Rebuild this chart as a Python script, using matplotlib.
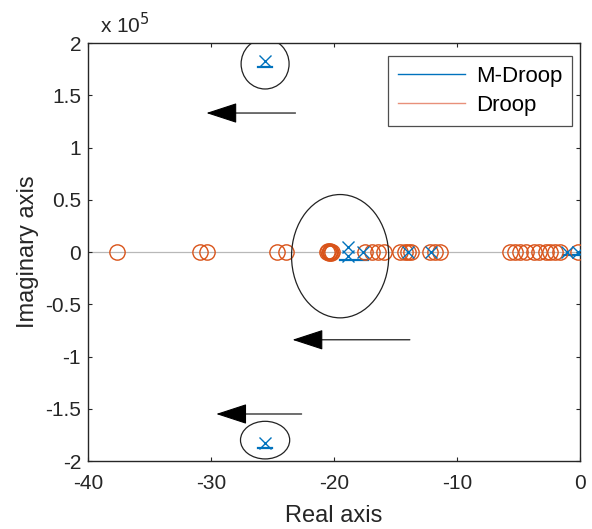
"""Root locus comparison: M-Droop vs Droop (pole map, MATLAB look)."""
import matplotlib
matplotlib.use("Agg")
import matplotlib.pyplot as plt
from matplotlib.patches import Ellipse
from matplotlib.ticker import FuncFormatter

plt.rcParams["font.family"] = ["Liberation Sans", "DejaVu Sans"]
plt.rcParams["axes.unicode_minus"] = False

# Droop poles (red circles), real parts, imag = 0 unless listed
droop_re = [-37.6, -30.9, -30.3, -24.6, -23.9,
            -20.6, -20.5, -20.4, -20.35, -20.3, -20.25, -20.2,
            -17.5, -16.9, -16.4, -15.9,
            -14.6, -14.2, -14.0, -13.7,
            -12.2, -11.8, -11.4,
            -5.7, -5.3, -4.9, -4.4,
            -3.7, -3.3, -2.8, -2.4, -2.0, -1.6, -0.15]
droop_im = [0, 0, 0, 0, 0,
            0, 1200, -1200, 0, 800, -800, 0,
            0, 0, 0, 0,
            0, 0, 0, 0,
            0, 0, 0,
            0, 0, 0, 0,
            0, 0, 0, 0, 0, 0, 0]

# M-Droop poles (blue crosses)
mdroop_re = [-25.6, -25.6, -18.9, -18.9, -17.6, -14.0, -12.1, -1.05, -0.15]
mdroop_im = [1.825e5, -1.83e5, 5000, -3500, 0, 0, 0, 0, 0]

# short M-Droop locus branches drawn under the crosses
mloc_top_re = [-26.2, -25.0]
mloc_top_im = [1.775e5, 1.775e5]
mloc_bot_re = [-26.2, -25.0]
mloc_bot_im = [-1.875e5, -1.875e5]
mloc_mid_re = [-19.5, -17.2]
mloc_mid_im = [-7500, -7500]
mloc_org_re = [-1.4, 0.0]
mloc_org_im = [-2500, -2500]

# annotations: ellipses (center re, center im, width, height)
ell_cx = [-25.6, -19.5, -25.6]
ell_cy = [1.80e5, -0.04e5, -1.80e5]
ell_w = [3.9, 7.9, 4.0]
ell_h = [0.48e5, 1.18e5, 0.36e5]

# arrows (start re, end re, im)
arr_x0 = [-22.9, -13.6, -22.4]
arr_x1 = [-30.6, -23.6, -29.8]
arr_y = [1.33e5, -0.84e5, -1.55e5]

xticks = [-40, -30, -20, -10, 0]
yticks = [-2e5, -1.5e5, -1e5, -0.5e5, 0, 0.5e5, 1e5, 1.5e5, 2e5]

BLUE = "#0072BD"
RED = "#D95319"
INK = "#262626"

fig = plt.figure(figsize=(5.92, 5.29), dpi=100)
ax = fig.add_axes([0.1486, 0.1285, 0.8311, 0.7902])

ax.axhline(0, color="#b8b8b8", lw=0.9, zorder=1)

for xs, ys in [(mloc_top_re, mloc_top_im), (mloc_bot_re, mloc_bot_im),
               (mloc_mid_re, mloc_mid_im), (mloc_org_re, mloc_org_im)]:
    ax.plot(xs, ys, color=BLUE, lw=1.6, zorder=3)

ax.plot(droop_re, droop_im, "o", ls="none", ms=11, mfc="none", mec=RED, mew=1.0, zorder=4)
ax.plot(mdroop_re, mdroop_im, "x", ls="none", ms=9, color=BLUE, mew=1.0, zorder=5)

for cx, cy, w, h in zip(ell_cx, ell_cy, ell_w, ell_h):
    ax.add_patch(Ellipse((cx, cy), w, h, fill=False, ec="#222222", lw=0.9, zorder=6))

for x0, x1, y in zip(arr_x0, arr_x1, arr_y):
    ax.annotate("", xy=(x1, y), xytext=(x0, y),
                arrowprops=dict(arrowstyle="-|>,head_length=1.1,head_width=0.36",
                                color="black", lw=0.8, mutation_scale=18))

# legend proxies
ax.plot([], [], color=BLUE, lw=1.0, label="M-Droop")
ax.plot([], [], color="#E8907A", lw=1.0, label="Droop")
leg = ax.legend(loc="upper right", bbox_to_anchor=(0.984, 0.969), fontsize=16,
                frameon=True, fancybox=False, edgecolor="#222222",
                handlelength=3.0, borderpad=0.45, labelspacing=0.35,
                handletextpad=0.5, borderaxespad=0)
leg.get_frame().set_linewidth(0.9)

ax.set_xlim(-40, 0)
ax.set_ylim(-2e5, 2e5)
ax.set_xticks(xticks)
ax.set_yticks(yticks)
ax.yaxis.set_major_formatter(FuncFormatter(lambda v, _: f"{v / 1e5:g}"))
ax.tick_params(direction="in", top=True, right=True, length=3, width=0.8,
               labelsize=15, colors=INK, pad=5)
ax.tick_params(axis="x", pad=9)
for s in ax.spines.values():
    s.set_color(INK)
    s.set_linewidth(1.0)

ax.text(0.024, 1.015, r"x 10$^5$", transform=ax.transAxes, fontsize=15,
        color=INK, ha="left", va="bottom")
ax.set_xlabel("Real axis", fontsize=17, color=INK, labelpad=9)
ax.set_ylabel("Imaginary axis", fontsize=17, color=INK, labelpad=4)

fig.savefig("out.png", dpi=100)
